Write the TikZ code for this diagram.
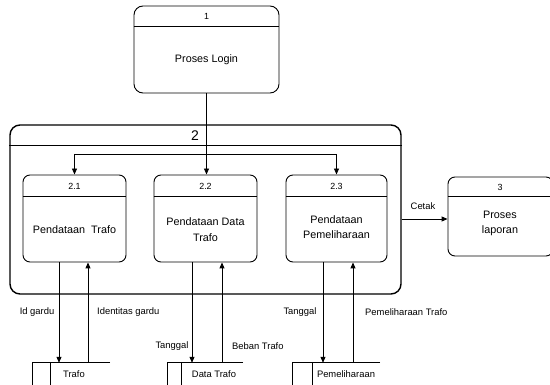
\documentclass[tikz,border=0pt]{standalone}
\usepackage{fontspec}
\setmainfont{Liberation Sans}
\usetikzlibrary{arrows.meta,calc}
\begin{document}
\begin{tikzpicture}[x=1pt,y=-1pt,
  box/.style={draw,line width=0.9pt,rounded corners=7pt,inner sep=0pt},
  bigbox/.style={draw,line width=1.4pt,rounded corners=10pt,inner sep=0pt},
  divider/.style={line width=0.9pt},
  flow/.style={line width=0.9pt,-{Triangle[length=6pt,width=5pt]}},
  plain/.style={line width=0.9pt},
  num/.style={font=\fontsize{8.9}{10}\selectfont,inner sep=0pt},
  bignum/.style={font=\fontsize{14}{16}\selectfont,inner sep=0pt},
  ptext/.style={font=\fontsize{10.8}{15.5}\selectfont,align=center,inner sep=0pt},
  lbl/.style={font=\fontsize{9.4}{11}\selectfont,inner sep=0pt},
  store/.style={inner sep=0pt,minimum height=22pt},
  storeline/.style={line width=0.8pt},
]
\clip (0,0) rectangle (550,385);
\useasboundingbox (0,0) rectangle (550,385);

% process 1
\node[box,rounded corners=9pt,minimum width=145pt,minimum height=87pt] (p1) at (206.5,49.5) {};
\draw[divider] ($(p1.north west)+(0,21)$) -- ($(p1.north east)+(0,21)$);
\node[num] (p1n) at (206.5,16.5) {1};
\node[ptext] (p1t) at (206.5,60) {Proses Login};

% process 2 (container)
\node[bigbox,minimum width=391pt,minimum height=169pt] (p2) at (205.5,209.5) {};
\draw[line width=1.4pt] ($(p2.north west)+(0,21)$) -- ($(p2.north east)+(0,21)$);
\node[bignum] (p2n) at (195,135.5) {2};

% sub-processes
\node[box,minimum width=103pt,minimum height=87pt] (p21) at (74.5,218.5) {};
\draw[divider] ($(p21.north west)+(0,22)$) -- ($(p21.north east)+(0,22)$);
\node[num] (p21n) at (74.5,186) {2.1};
\node[ptext] (p21t) at (74.5,229.5) {Pendataan\ \ Trafo};

\node[box,minimum width=103pt,minimum height=87pt] (p22) at (205.5,218.5) {};
\draw[divider] ($(p22.north west)+(0,22)$) -- ($(p22.north east)+(0,22)$);
\node[num] (p22n) at (205.5,186) {2.2};
\node[ptext] (p22t) at (205.5,229.5) {Pendataan Data\\Trafo};

\node[box,minimum width=101pt,minimum height=87pt] (p23) at (336.5,218.5) {};
\draw[divider] ($(p23.north west)+(0,22)$) -- ($(p23.north east)+(0,22)$);
\node[num] (p23n) at (336.5,186) {2.3};
\node[ptext] (p23t) at (336.5,227) {Pendataan\\Pemeliharaan};

% process 3
\node[box,minimum width=105pt,minimum height=79pt] (p3) at (500.5,216.5) {};
\draw[divider] ($(p3.north west)+(0,20)$) -- ($(p3.north east)+(0,20)$);
\node[num] (p3n) at (500,187) {3};
\node[ptext] (p3t) at (500,223.5) {Proses\\laporan};

% data stores (lower edge runs along the bottom border)
\node[store,minimum width=77pt] (s1) at (71.5,374) {};
\draw[storeline] (s1.north east) -- (s1.north west) -- (s1.south west);
\draw[storeline,gray!50] (s1.south west) -- (s1.south east);
\draw[storeline] ($(s1.north west)+(18,0)$) -- ($(s1.south west)+(18,0)$);
\node[lbl] (s1t) at (74,374) {Trafo};

\node[store,minimum width=75pt] (s2) at (205.5,374) {};
\draw[storeline] (s2.north east) -- (s2.north west) -- (s2.south west);
\draw[storeline,gray!50] (s2.south west) -- (s2.south east);
\draw[storeline] ($(s2.north west)+(14,0)$) -- ($(s2.south west)+(14,0)$);
\node[lbl] (s2t) at (214,374) {Data Trafo};

\node[store,minimum width=87pt] (s3) at (336.5,374) {};
\draw[storeline] (s3.north east) -- (s3.north west) -- (s3.south west);
\draw[storeline,gray!50] (s3.south west) -- (s3.south east);
\draw[storeline] ($(s3.north west)+(20,0)$) -- ($(s3.south west)+(20,0)$);
\node[lbl] (s3t) at (346,374) {Pemeliharaan};

% login to data entry
\draw[flow] (p1.south) -- (p1.south |- p22.north);
\coordinate (dist) at (0,154);
\draw[plain] (p21.north |- dist) -- (p23.north |- dist);
\draw[flow] (p21.north |- dist) -- (p21.north);
\draw[flow] (p23.north |- dist) -- (p23.north);

% report output
\coordinate (cy) at (0,219);
\draw[flow] (p2.east |- cy) -- (p3.west |- cy);
\node[lbl] (cetak) at (423,206) {Cetak};

% flows between sub-processes and stores
\coordinate (d1) at ([xshift=-15.5]p21.south);
\coordinate (u1) at ([xshift=13.5]p21.south);
\draw[flow] (d1) -- (d1 |- s1.north);
\draw[flow] (u1 |- s1.north) -- (u1);
\node[lbl] (l1a) at (37,312) {Id gardu};
\node[lbl,anchor=west] (l1b) at (97,312) {Identitas gardu};

\coordinate (d2) at ([xshift=-13.5]p22.south);
\coordinate (u2) at ([xshift=16.5]p22.south);
\draw[flow] (d2) -- (d2 |- s2.north);
\draw[flow] (u2 |- s2.north) -- (u2);
\node[lbl] (l2a) at (172,346) {Tanggal};
\node[lbl,anchor=west] (l2b) at (232,346) {Beban Trafo};

\coordinate (d3) at ([xshift=-13.5]p23.south);
\coordinate (u3) at ([xshift=16.5]p23.south);
\draw[flow] (d3) -- (d3 |- s3.north);
\draw[flow] (u3 |- s3.north) -- (u3);
\node[lbl] (l3a) at (300,312) {Tanggal};
\node[lbl,anchor=west] (l3b) at (365,312) {Pemeliharaan Trafo};
\end{tikzpicture}
\end{document}
